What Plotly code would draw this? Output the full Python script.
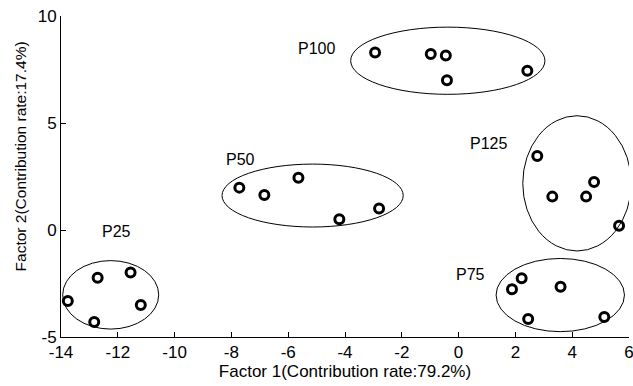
import plotly.graph_objects as go

# Factor scores of each sample, grouped by treatment
groups = ["P25", "P50", "P75", "P100", "P125"]
factor1 = {
    "P25": [-13.76, -12.71, -11.55, -11.19, -12.83],
    "P50": [-7.72, -6.84, -5.64, -4.20, -2.80],
    "P75": [2.22, 1.88, 3.59, 2.45, 5.13],
    "P100": [-2.94, -0.98, -0.45, -0.41, 2.42],
    "P125": [2.77, 4.77, 3.30, 4.49, 5.65],
}
factor2 = {
    "P25": [-3.32, -2.23, -1.99, -3.50, -4.30],
    "P50": [1.98, 1.64, 2.44, 0.50, 1.01],
    "P75": [-2.26, -2.77, -2.65, -4.16, -4.07],
    "P100": [8.29, 8.22, 8.15, 7.00, 7.44],
    "P125": [3.46, 2.24, 1.56, 1.56, 0.20],
}

# Confidence ellipses around each group: centre (x, y) and semi-axes (a, b)
ellipse_cx = [-12.25, -5.14, 3.58, -0.38, 4.17]
ellipse_cy = [-3.03, 1.61, -3.04, 7.91, 2.18]
ellipse_a = [1.69, 3.19, 2.26, 3.42, 1.91]
ellipse_b = [1.60, 1.47, 1.71, 1.57, 3.16]

# Group label positions
label_x = [-12.04, -7.67, 0.43, -5.02, 1.07]
label_y = [-0.08, 3.30, -2.10, 8.50, 4.02]

x_ticks = list(range(-14, 7, 2))
y_ticks = [-5, 0, 5, 10]
x_ticktext = [str(v) for v in x_ticks]
y_ticktext = [str(v) for v in y_ticks]

x_title = "Factor 1(Contribution rate:79.2%)"
y_title = "Factor 2(Contribution rate:17.4%)"

FONT = "Liberation Sans, Arial, sans-serif"

fig = go.Figure()

for g in groups:
    fig.add_trace(go.Scatter(
        x=factor1[g], y=factor2[g], mode="markers", name=g,
        marker=dict(symbol="circle-open", size=9, color="black",
                    line=dict(color="black", width=3)),
        showlegend=False,
    ))

for cx, cy, a, b in zip(ellipse_cx, ellipse_cy, ellipse_a, ellipse_b):
    fig.add_shape(type="circle", xref="x", yref="y",
                  x0=cx - a, x1=cx + a, y0=cy - b, y1=cy + b,
                  line=dict(color="black", width=1))

for g, lx, ly in zip(groups, label_x, label_y):
    fig.add_annotation(x=lx, y=ly, text=g, showarrow=False,
                       font=dict(family=FONT, size=16, color="black"))

# Vertical axis title, placed as a rotated annotation
fig.add_annotation(xref="paper", yref="paper", x=-0.0713, y=0.561,
                   text=y_title, textangle=-90, showarrow=False,
                   xanchor="center", yanchor="middle",
                   font=dict(family=FONT, size=15.5, color="black"))

axis_common = dict(
    showline=True, linecolor="black", linewidth=1,
    ticks="inside", ticklen=5, tickcolor="black",
    showgrid=False, zeroline=False, ticklabeloverflow="allow",
    automargin=False,
    tickfont=dict(family=FONT, size=17, color="black"),
)

fig.update_xaxes(range=[-14, 6], tickvals=x_ticks, ticktext=x_ticktext,
                 title_text=x_title, title_standoff=2,
                 title_font=dict(family=FONT, size=17, color="black"),
                 **axis_common)
fig.update_yaxes(range=[-5, 10], tickvals=y_ticks, ticktext=y_ticktext,
                 **axis_common)

fig.update_layout(
    width=633, height=386,
    margin=dict(l=61, r=4, t=16, b=49),
    plot_bgcolor="white", paper_bgcolor="white",
)

fig.write_html("out.html")
